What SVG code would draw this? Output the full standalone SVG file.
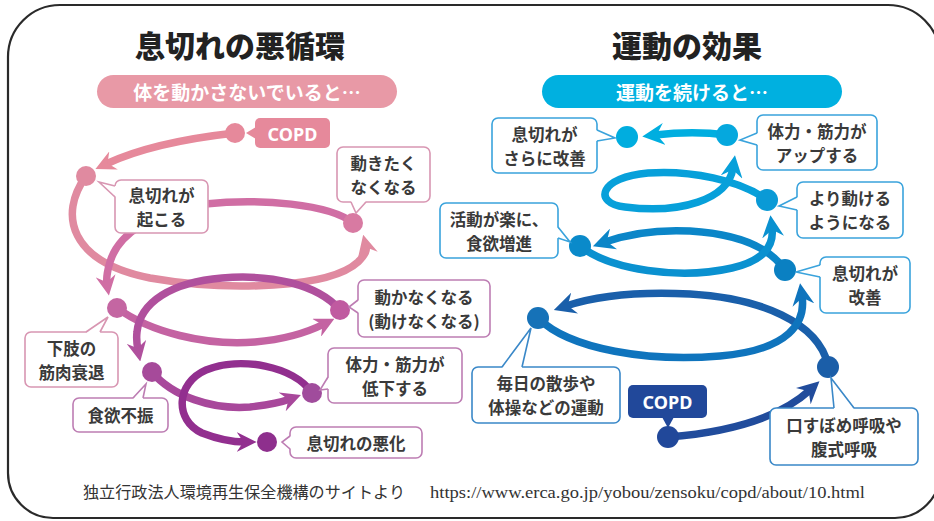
<svg xmlns="http://www.w3.org/2000/svg" width="934" height="521" viewBox="0 0 934 521">
<style>
.t{font-family:"Noto Sans CJK JP","Noto Sans",sans-serif;font-weight:700;fill:#3a3a3a;font-size:16.5px;text-anchor:middle;dominant-baseline:central}
.title{font-family:"Noto Sans CJK JP",sans-serif;font-weight:900;fill:#222;font-size:30px;text-anchor:middle;dominant-baseline:central}
.pill{font-family:"Noto Sans CJK JP",sans-serif;font-weight:700;fill:#fff;font-size:19px;text-anchor:middle;dominant-baseline:central}
.tag{font-family:"Noto Sans","Liberation Sans",sans-serif;font-weight:700;fill:#fff;font-size:18px;text-anchor:middle;dominant-baseline:central}
.bl{fill:#fff;stroke:#d896b2;stroke-width:1.6}
.bl2{fill:#fff;stroke:#bd7db3;stroke-width:1.6}
.br{fill:#fff;stroke:#3aa3dc;stroke-width:1.6}
.br2{fill:#fff;stroke:#3a88c8;stroke-width:1.6}
.c{fill:none;stroke-width:7.5;stroke-linecap:round}
.foot{font-family:"Liberation Serif","Noto Sans CJK JP",serif;fill:#333;font-size:16px}
</style>
<defs>
<marker id="mA" viewBox="0 0 12 12" refX="5" refY="6" markerWidth="20" markerHeight="20" markerUnits="userSpaceOnUse" orient="auto"><path d="M0,0 L12,6 L0,12 L4,6 Z" fill="#e6899b"/></marker>
<marker id="mB" viewBox="0 0 12 12" refX="5" refY="6" markerWidth="20" markerHeight="20" markerUnits="userSpaceOnUse" orient="auto"><path d="M0,0 L12,6 L0,12 L4,6 Z" fill="#e08aa0"/></marker>
<marker id="mC" viewBox="0 0 12 12" refX="5" refY="6" markerWidth="20" markerHeight="20" markerUnits="userSpaceOnUse" orient="auto"><path d="M0,0 L12,6 L0,12 L4,6 Z" fill="#d06ea4"/></marker>
<marker id="mD" viewBox="0 0 12 12" refX="5" refY="6" markerWidth="20" markerHeight="20" markerUnits="userSpaceOnUse" orient="auto"><path d="M0,0 L12,6 L0,12 L4,6 Z" fill="#c463a2"/></marker>
<marker id="mE" viewBox="0 0 12 12" refX="5" refY="6" markerWidth="20" markerHeight="20" markerUnits="userSpaceOnUse" orient="auto"><path d="M0,0 L12,6 L0,12 L4,6 Z" fill="#b0509d"/></marker>
<marker id="mF" viewBox="0 0 12 12" refX="5" refY="6" markerWidth="20" markerHeight="20" markerUnits="userSpaceOnUse" orient="auto"><path d="M0,0 L12,6 L0,12 L4,6 Z" fill="#a8489b"/></marker>
<marker id="mG" viewBox="0 0 12 12" refX="5" refY="6" markerWidth="20" markerHeight="20" markerUnits="userSpaceOnUse" orient="auto"><path d="M0,0 L12,6 L0,12 L4,6 Z" fill="#922f8f"/></marker>
<marker id="r1" viewBox="0 0 12 12" refX="5" refY="6" markerWidth="22" markerHeight="22" markerUnits="userSpaceOnUse" orient="auto"><path d="M0,0 L12,6 L0,12 L4,6 Z" fill="#214c9c"/></marker>
<marker id="r2" viewBox="0 0 12 12" refX="5" refY="6" markerWidth="22" markerHeight="22" markerUnits="userSpaceOnUse" orient="auto"><path d="M0,0 L12,6 L0,12 L4,6 Z" fill="#1a5faa"/></marker>
<marker id="r3" viewBox="0 0 12 12" refX="5" refY="6" markerWidth="22" markerHeight="22" markerUnits="userSpaceOnUse" orient="auto"><path d="M0,0 L12,6 L0,12 L4,6 Z" fill="#0f74bd"/></marker>
<marker id="r4" viewBox="0 0 12 12" refX="5" refY="6" markerWidth="22" markerHeight="22" markerUnits="userSpaceOnUse" orient="auto"><path d="M0,0 L12,6 L0,12 L4,6 Z" fill="#0b86c8"/></marker>
<marker id="r5" viewBox="0 0 12 12" refX="5" refY="6" markerWidth="22" markerHeight="22" markerUnits="userSpaceOnUse" orient="auto"><path d="M0,0 L12,6 L0,12 L4,6 Z" fill="#0a91d0"/></marker>
<marker id="r6" viewBox="0 0 12 12" refX="5" refY="6" markerWidth="22" markerHeight="22" markerUnits="userSpaceOnUse" orient="auto"><path d="M0,0 L12,6 L0,12 L4,6 Z" fill="#07a0da"/></marker>
<marker id="r7" viewBox="0 0 12 12" refX="5" refY="6" markerWidth="22" markerHeight="22" markerUnits="userSpaceOnUse" orient="auto"><path d="M0,0 L12,6 L0,12 L4,6 Z" fill="#00aee0"/></marker>
</defs>

<rect width="934" height="521" fill="#fff"/>
<path d="M8,57 A52,52 0 0 1 60,5 L888,5 A52,52 0 0 1 940,57 L940,473 A45,45 0 0 1 895,518 L53,518 A45,45 0 0 1 8,473 Z" fill="none" stroke="#2a2a2a" stroke-width="2.2"/>

<g id="titles">
<text class="title" x="240" y="44">息切れの悪循環</text>
<text class="title" x="687" y="44">運動の効果</text>
<rect x="97" y="75" width="300" height="33" rx="16.5" fill="#e899a6"/>
<text class="pill" x="247" y="91.5">体を動かさないでいると…</text>
<rect x="542" y="75" width="300" height="33" rx="16.5" fill="#00b0e0"/>
<text class="pill" x="692" y="91.5">運動を続けると…</text>
</g>

<g id="connectors">
<path class="c" stroke="#e6899b" d="M235,133 C190,138 140,148 106,164" marker-end="url(#mA)"/>
<path class="c" stroke="#e08aa0" d="M86,176 C58,215 70,262 150,278 C230,292 330,288 358,262 C366,254 367,250 366,246" marker-end="url(#mB)"/>
<path class="c" stroke="#d06ea4" d="M353,223 C330,204 260,198 205,204 C150,212 118,235 110,262 C107,272 106,278 107,284" marker-end="url(#mC)"/>
<path class="c" stroke="#c463a2" d="M117,308 C150,332 205,346 255,342 C290,339 310,331 324,324" marker-end="url(#mD)"/>
<path class="c" stroke="#b0509d" d="M340,310 C318,284 270,274 222,278 C172,282 140,302 137,332 C136,340 137,345 138,350" marker-end="url(#mE)"/>
<path class="c" stroke="#a8489b" d="M152,372 C172,396 212,410 250,407 C268,405 282,402 290,399" marker-end="url(#mF)"/>
<path class="c" stroke="#922f8f" d="M312,393 C294,366 240,356 206,370 C176,383 174,420 202,433 C220,440 235,442 245,442" marker-end="url(#mG)"/>

<path class="c" stroke="#214c9c" stroke-width="9" d="M668,437 C720,433 775,422 810,390" marker-end="url(#r1)"/>
<path class="c" stroke="#1a5faa" stroke-width="8.5" d="M828,365 C818,322 760,298 690,294 C630,291 590,298 566,306" marker-end="url(#r2)"/>
<path class="c" stroke="#0f74bd" stroke-width="8" d="M538,318 C570,350 650,362 720,356 C790,350 806,322 802,296" marker-end="url(#r3)"/>
<path class="c" stroke="#0b86c8" stroke-width="8" d="M785,270 C770,248 740,234 690,231 C650,229 625,235 605,242" marker-end="url(#r4)"/>
<path class="c" stroke="#0a91d0" stroke-width="8" d="M580,246 C610,270 680,280 732,268 C766,260 774,244 772,228" marker-end="url(#r5)"/>
<path class="c" stroke="#07a0da" stroke-width="8" d="M767,200 C740,180 690,170 648,173 C600,177 592,203 625,207 C680,214 728,200 733,168" marker-end="url(#r6)"/>
<path class="c" stroke="#00aee0" stroke-width="8" d="M727,135 C705,132 680,132 655,135" marker-end="url(#r7)"/>
</g>

<!-- Left nodes -->
<g id="copd-left">
<circle cx="235" cy="133" r="10" fill="#e6899b"/>
<polygon points="256,127 246,133 256,139" fill="#e6899b"/>
<rect x="255" y="118" width="75" height="30" rx="5" fill="#e6899b"/>
<text class="tag" x="292.5" y="133.5">COPD</text>
</g>
<g id="n-okoru">
<circle cx="86" cy="176" r="10" fill="#e08aa0"/>
<rect class="bl" x="115" y="180" width="93" height="53" rx="6"/>
<polygon points="116,186 99,182 116,197" fill="#fff"/>
<polyline points="115,186 99,182 115,197" fill="none" stroke="#d896b2" stroke-width="1.6"/>
<text class="t"><tspan x="161.5" y="194.5">息切れが</tspan><tspan x="161.5" y="218.5">起こる</tspan></text>
</g>
<g id="n-ugokitaku">
<circle cx="353" cy="223" r="10" fill="#d87aa2"/>
<rect class="bl" x="337" y="147" width="93" height="55" rx="6"/>
<polygon points="351,201 356,213 366,201" fill="#fff"/>
<polyline points="351,202 356,213 366,202" fill="none" stroke="#d896b2" stroke-width="1.6"/>
<text class="t"><tspan x="383.5" y="162.5">動きたく</tspan><tspan x="383.5" y="186.5">なくなる</tspan></text>
</g>
<g id="n-kashi">
<circle cx="117" cy="308" r="10" fill="#c466a2"/>
<rect class="bl" x="25" y="332" width="93" height="55" rx="6"/>
<polygon points="86,333 108,317 100,333" fill="#fff"/>
<polyline points="86,332 108,317 100,332" fill="none" stroke="#d896b2" stroke-width="1.6"/>
<text class="t"><tspan x="71.5" y="347.5">下肢の</tspan><tspan x="71.5" y="371.5">筋肉衰退</tspan></text>
</g>
<g id="n-ugokanaku">
<circle cx="340" cy="310" r="10" fill="#c05aa0"/>
<rect class="bl2" x="358" y="280" width="132" height="57" rx="6"/>
<polygon points="359,300 349,307 359,313" fill="#fff"/>
<polyline points="358,300 349,307 358,313" fill="none" stroke="#bd7db3" stroke-width="1.6"/>
<text class="t"><tspan x="424" y="296.5">動かなくなる</tspan><tspan x="424" y="320.5">(動けなくなる)</tspan></text>
</g>
<g id="n-shokuyoku">
<circle cx="152" cy="372" r="10" fill="#a64a9a"/>
<rect class="bl2" x="73" y="398" width="95" height="34" rx="6"/>
<polygon points="133,399 146,384 143,399" fill="#fff"/>
<polyline points="133,398 146,384 143,398" fill="none" stroke="#bd7db3" stroke-width="1.6"/>
<text class="t" x="120.5" y="415">食欲不振</text>
</g>
<g id="n-teika">
<circle cx="312" cy="393" r="10" fill="#a04c9c"/>
<rect class="bl2" x="328" y="348" width="134" height="55" rx="6"/>
<polygon points="329,377 320,390 329,389" fill="#fff"/>
<polyline points="328,377 320,390 328,389" fill="none" stroke="#bd7db3" stroke-width="1.6"/>
<text class="t"><tspan x="395" y="363.5">体力・筋力が</tspan><tspan x="395" y="387.5">低下する</tspan></text>
</g>
<g id="n-akka">
<circle cx="267" cy="442" r="10" fill="#8e2f8d"/>
<rect class="bl2" x="290" y="427" width="132" height="31" rx="6"/>
<polygon points="291,436 282,442 291,449" fill="#fff"/>
<polyline points="290,436 282,442 290,449" fill="none" stroke="#bd7db3" stroke-width="1.6"/>
<text class="t" x="356" y="443">息切れの悪化</text>
</g>

<!-- Right nodes -->
<g id="copd-right">
<circle cx="668" cy="437" r="11" fill="#21489a"/>
<polygon points="662,417 668,428 674,417" fill="#21489a"/>
<rect x="628" y="385" width="79" height="33" rx="5" fill="#21489a"/>
<text class="tag" x="667.5" y="402">COPD</text>
</g>
<g id="n-kokyu">
<circle cx="828" cy="367" r="11" fill="#1b5ea8"/>
<rect class="br2" x="770" y="408" width="148" height="57" rx="6"/>
<polygon points="834,409 831,378 854,409" fill="#fff"/>
<polyline points="834,408 831,378 854,408" fill="none" stroke="#3a88c8" stroke-width="1.6"/>
<text class="t"><tspan x="844" y="424.5">口すぼめ呼吸や</tspan><tspan x="844" y="448.5">腹式呼吸</tspan></text>
</g>
<g id="n-mainichi">
<circle cx="538" cy="318" r="11" fill="#1672b8"/>
<rect class="br2" x="472" y="367" width="148" height="56" rx="6"/>
<polygon points="502,368 531,328 522,368" fill="#fff"/>
<polyline points="502,367 531,328 522,367" fill="none" stroke="#3a88c8" stroke-width="1.6"/>
<text class="t"><tspan x="546" y="383">毎日の散歩や</tspan><tspan x="546" y="407">体操などの運動</tspan></text>
</g>
<g id="n-kaizen">
<circle cx="785" cy="270" r="11" fill="#0a80c2"/>
<rect class="br" x="820" y="257" width="90" height="56" rx="6"/>
<polygon points="821,265 796,272 821,277" fill="#fff"/>
<polyline points="820,265 796,272 820,277" fill="none" stroke="#3aa3dc" stroke-width="1.6"/>
<text class="t"><tspan x="865" y="273">息切れが</tspan><tspan x="865" y="297">改善</tspan></text>
</g>
<g id="n-katsudo">
<circle cx="580" cy="246" r="11" fill="#0a8aca"/>
<rect class="br" x="440" y="203" width="118" height="55" rx="6"/>
<polygon points="557,227 570,242 557,238" fill="#fff"/>
<polyline points="558,227 570,242 558,238" fill="none" stroke="#3aa3dc" stroke-width="1.6"/>
<text class="t"><tspan x="499" y="218.5">活動が楽に、</tspan><tspan x="499" y="242.5">食欲増進</tspan></text>
</g>
<g id="n-yori">
<circle cx="767" cy="200" r="11" fill="#0a9ad6"/>
<rect class="br" x="797" y="182" width="106" height="56" rx="6"/>
<polygon points="798,197 779,206 798,210" fill="#fff"/>
<polyline points="797,197 779,206 797,210" fill="none" stroke="#3aa3dc" stroke-width="1.6"/>
<text class="t"><tspan x="850" y="198">より動ける</tspan><tspan x="850" y="222">ようになる</tspan></text>
</g>
<g id="n-up">
<circle cx="727" cy="135" r="11" fill="#05a8de"/>
<rect class="br" x="757" y="115" width="120" height="55" rx="6"/>
<polygon points="758,133 740,140 758,145" fill="#fff"/>
<polyline points="757,133 740,140 757,145" fill="none" stroke="#3aa3dc" stroke-width="1.6"/>
<text class="t"><tspan x="817" y="130.5">体力・筋力が</tspan><tspan x="817" y="154.5">アップする</tspan></text>
</g>
<g id="n-sarani">
<circle cx="627" cy="137" r="11" fill="#00addf"/>
<rect class="br" x="492" y="118" width="105" height="55" rx="6"/>
<polygon points="596,130 615,138 596,141" fill="#fff"/>
<polyline points="597,130 615,138 597,141" fill="none" stroke="#3aa3dc" stroke-width="1.6"/>
<text class="t"><tspan x="544.5" y="133.5">息切れが</tspan><tspan x="544.5" y="157.5">さらに改善</tspan></text>
</g>

<g id="footer">
<text class="foot" x="83" y="498" textLength="322" lengthAdjust="spacingAndGlyphs">独立行政法人環境再生保全機構のサイトより</text>
<text class="foot" x="430" y="498" textLength="435" lengthAdjust="spacingAndGlyphs">https://www.erca.go.jp/yobou/zensoku/copd/about/10.html</text>
</g>
</svg>
